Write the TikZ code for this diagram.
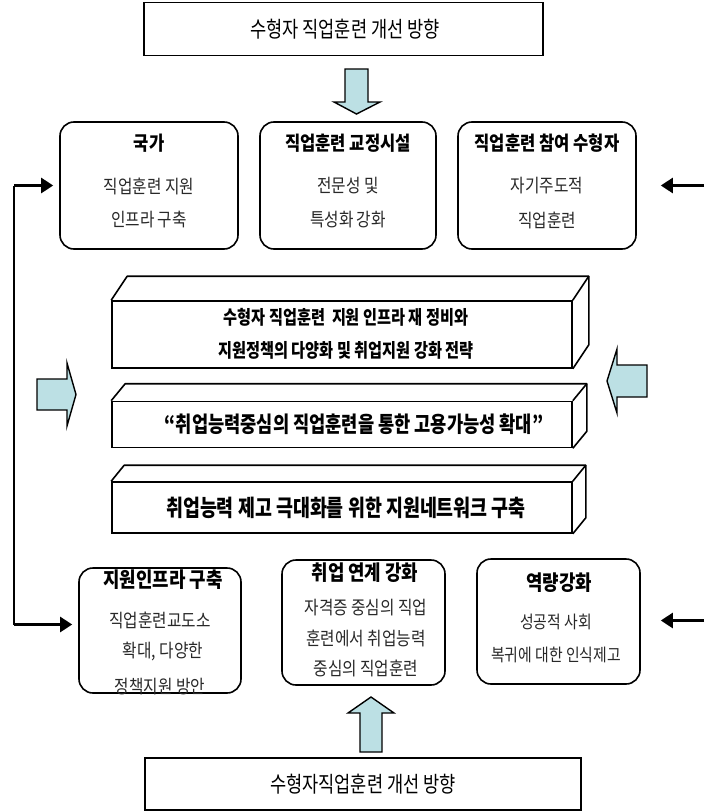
\documentclass[tikz,border=0pt]{standalone}
\usepackage{fontspec}
\usetikzlibrary{arrows.meta,calc}
\newfontfamily\kr{Noto Sans CJK KR}[FakeStretch=0.85]
\newfontfamily\krn{Noto Sans CJK KR}[FakeStretch=0.8]
\definecolor{arrowblue}{RGB}{188,224,228}
\definecolor{bodygray}{RGB}{40,40,40}
\begin{document}
\begin{tikzpicture}[x=1pt,y=-1pt,
  plainbox/.style={draw, line width=1.6pt, inner sep=0pt},
  rbox/.style={draw, line width=1.6pt, rounded corners=14pt, inner sep=0pt},
  frontface/.style={draw, line width=1.6pt, fill=white, inner sep=0pt},
  face/.style={line width=1.6pt, line join=round},
  bigarrow/.style={draw, line width=1.4pt, fill=arrowblue, line join=miter},
  conn/.style={line width=2.4pt, -{Triangle[length=12pt,width=15pt]}},
  vline/.style={line width=1.6pt},
  ttl/.style={font=\kr\bfseries\fontsize{19.5}{22}\selectfont, inner sep=0pt},
  bttl/.style={font=\kr\bfseries\fontsize{21}{24}\selectfont, inner sep=0pt},
  body/.style={font=\kr\fontsize{18.5}{22}\selectfont, text=bodygray, inner sep=0pt},
  head/.style={font=\krn\fontsize{22}{25}\selectfont, inner sep=0pt},
  boxtxt/.style={font=\krn\bfseries\fontsize{19}{22}\selectfont, inner sep=0pt},
  bigtxt/.style={font=\krn\bfseries\fontsize{22}{25}\selectfont, inner sep=0pt}
]
\useasboundingbox (0,0) rectangle (704,811);

% top and bottom title boxes
\node[plainbox, minimum width=399pt, minimum height=53pt] (top) at (343.5,29) {};
\node[head] (toptxt) at (345,29) {수형자 직업훈련 개선 방향};
\node[plainbox, minimum width=436pt, minimum height=52pt] (bot) at (363,784) {};
\node[head] (bottxt) at (363,784) {수형자직업훈련 개선 방향};

% block arrows
\draw[bigarrow] (345,69) -- (368,69) -- (368,102) -- (380,102) -- (356.5,114) -- (334,102) -- (345,102) -- cycle;
\draw[bigarrow] (360,752) -- (382,752) -- (382,713) -- (394,713) -- (371,697) -- (348,713) -- (360,713) -- cycle;
\draw[bigarrow] (37,379) -- (67,379) -- (67,363) -- (76,394.5) -- (67,426) -- (67,410) -- (37,410) -- cycle;
\draw[bigarrow] (647,365) -- (617,365) -- (617,349) -- (607,381) -- (617,413) -- (617,397) -- (647,397) -- cycle;

% top row boxes
\node[rbox, minimum width=178pt, minimum height=127pt] (t1) at (149,185.5) {};
\node[rbox, minimum width=176pt, minimum height=127pt] (t2) at (348,185.5) {};
\node[rbox, minimum width=178pt, minimum height=127pt] (t3) at (547,185.5) {};
\node[ttl] at (149,143) {국가};
\node[body] at (149,186) {직업훈련 지원};
\node[body] at (149,220) {인프라 구축};
\node[ttl] at (348,143) {직업훈련 교정시설};
\node[body] at (348,186) {전문성 및};
\node[body] at (348,220) {특성화 강화};
\node[ttl] at (547,143) {직업훈련 참여 수형자};
\node[body] at (547,186) {자기주도적};
\node[body] at (547,220) {직업훈련};

% bottom row boxes
\node[rbox, minimum width=162pt, minimum height=125pt] (b1) at (160,630.5) {};
\node[rbox, minimum width=163pt, minimum height=125pt] (b2) at (363.5,622.5) {};
\node[rbox, minimum width=163pt, minimum height=125pt] (b3) at (558.5,621.5) {};
\node[bttl] at (163,580) {지원인프라 구축};
\node[body] at (160,620) {직업훈련교도소};
\node[body] at (163,652) {확대, 다양한};
\node[body] at (160,687) {정책지원 방안};
\node[bttl] at (365,573) {취업 연계 강화};
\node[body] at (366,608) {자격증 중심의 직업};
\node[body] at (366,638) {훈련에서 취업능력};
\node[body] at (366,668) {중심의 직업훈련};
\node[bttl] at (559,583) {역량강화};
\node[body, font=\kr\fontsize{17.5}{21}\selectfont] at (556,622) {성공적 사회};
\node[body, font=\kr\fontsize{17.5}{21}\selectfont] at (556,655) {복귀에 대한 인식제고};

% 3D boxes
\node[frontface, minimum width=460pt, minimum height=67pt] (fa) at (342,334.5) {};
\draw[face] (fa.north west) -- ([shift={(16,-24)}]fa.north west) -- ([shift={(16,-24)}]fa.north east) -- ([shift={(16,-24)}]fa.south east) -- (fa.south east);
\draw[face] ([shift={(16,-24)}]fa.north east) -- (fa.north east);
\node[boxtxt] at (346,317) {수형자 직업훈련\ \ 지원 인프라 재 정비와};
\node[boxtxt] at (346,350) {지원정책의 다양화 및 취업지원 강화 전략};

\node[frontface, minimum width=460pt, minimum height=46pt] (fb) at (342,424.5) {};
\draw[face] (fb.north west) -- ([shift={(14,-17)}]fb.north west) -- ([shift={(14,-17)}]fb.north east) -- ([shift={(14,-17)}]fb.south east) -- (fb.south east);
\draw[face] ([shift={(14,-17)}]fb.north east) -- (fb.north east);
\node[bigtxt] at (354,424) {“취업능력중심의 직업훈련을 통한 고용가능성 확대”};

\node[frontface, minimum width=460pt, minimum height=51pt] (fc) at (342,507.5) {};
\draw[face] (fc.north west) -- ([shift={(13,-16)}]fc.north west) -- ([shift={(13,-16)}]fc.north east) -- ([shift={(13,-16)}]fc.south east) -- (fc.south east);
\draw[face] ([shift={(13,-16)}]fc.north east) -- (fc.north east);
\node[bigtxt, font=\krn\bfseries\fontsize{23}{26}\selectfont] at (346,508) {취업능력 제고 극대화를 위한 지원네트워크 구축};

% connectors
\coordinate (lx) at (14,0);
\coordinate (rx) at (704,0);
\coordinate (lt) at (lx |- t1.west);
\coordinate (lb) at ($(lx |- b1.west)+(0,-6)$);
\draw[vline] (lt) -- (lb);
\draw[conn] (lt) -- ([xshift=-6pt]t1.west);
\draw[conn] (lb) -- ($(b1.west)+(-6,-6)$);
\draw[conn] (rx |- t3.east) -- ([xshift=24pt]t3.east);
\draw[conn] ($(rx |- b3.east)+(0,-1)$) -- ($(b3.east)+(20,-1)$);
\end{tikzpicture}
\end{document}
